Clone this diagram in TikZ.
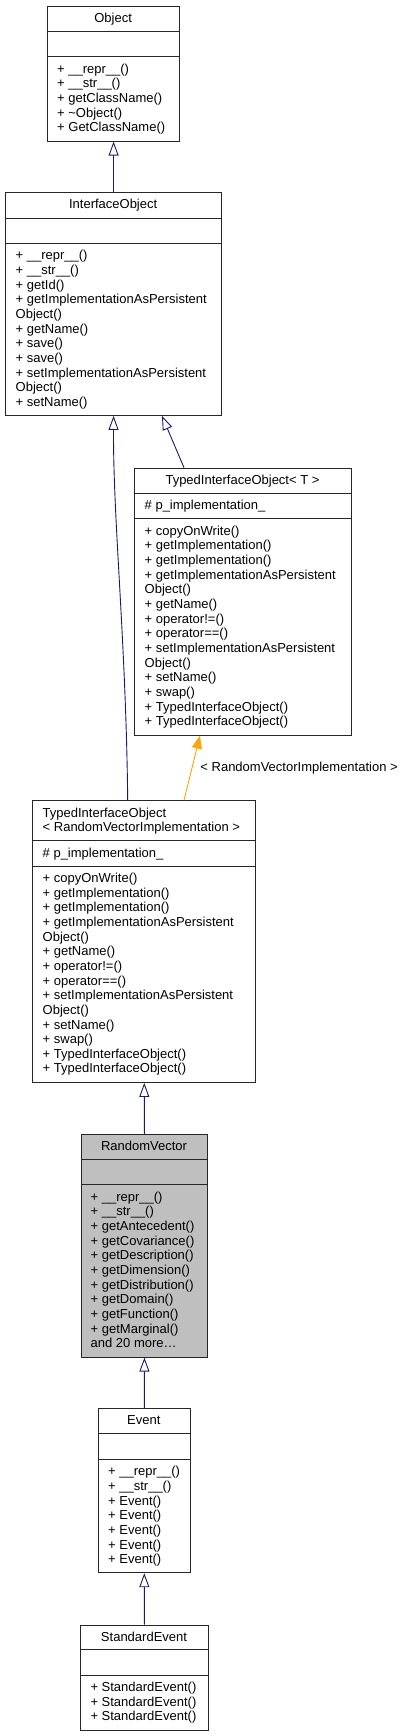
\documentclass[tikz,border=0pt]{standalone}
\usepackage{fontspec}
\setmainfont{Liberation Sans}
\usetikzlibrary{arrows.meta}
\definecolor{edgeblue}{HTML}{191970}
\definecolor{edgeorange}{HTML}{FFA500}
\definecolor{boxgray}{HTML}{BFBFBF}
\tikzset{
	classframe/.style={draw=black!85, line width=0.9pt, inner sep=0pt, anchor=north west},
	classline/.style={draw=black!85, line width=0.9pt},
	member/.style={inner sep=0pt, anchor=base west, font=\fontsize{13}{14.65}\selectfont},
	classtitle/.style={inner sep=0pt, anchor=base, font=\fontsize{13}{14.65}\selectfont},
	inherit/.style={draw=edgeblue, line width=0.9pt, -{Triangle[open, length=14pt, width=10pt, fill=white]}},
	template/.style={draw=edgeorange, line width=0.9pt, -{Triangle[length=13pt, width=10pt]}},
	edgelabel/.style={inner sep=0pt, font=\fontsize{13}{14.65}\selectfont}
}
\newcommand{\classbox}[9]{%
	\node[classframe, fill=#8, minimum width={(#4-#2)*1pt}, minimum height={(#5-#3)*1pt}] (#1) at (#2,#3) {};
	\draw[classline] (#2,#6) -- (#4,#6);
	\draw[classline] (#2,#7) -- (#4,#7);
	\node[classtitle] (#1-title) at ({(#2+#4)/2},{#3+16.5}) {#9};
}
\newcommand{\members}[4]{%
	\foreach \mline [count=\i] in {#4}{
		\node[member] (#1-\i) at (#2,{#3+(\i-1)*14.65}) {\mline};}
}
\begin{document}
\begin{tikzpicture}[x=1pt, y=-1pt]
	\useasboundingbox (0,0) rectangle (407,1736);
	\classbox{obj}{47}{5.7}{179.3}{140.7}{31.3}{56.7}{white}{Object}
	\members{obj}{57}{73.2}{+ \_\_repr\_\_(), + \_\_str\_\_(), + getClassName(), + \textasciitilde Object(), + GetClassName()}
	\classbox{iface}{5}{192.3}{221.3}{415}{218}{243.3}{white}{InterfaceObject}
	\members{iface}{15.5}{259.8}{+ \_\_repr\_\_(), + \_\_str\_\_(), + getId(), + getImplementationAsPersistent, Object(), + getName(), + save(), + save(), + setImplementationAsPersistent, Object(), + setName()}
	\classbox{typedT}{134.3}{467.7}{350.7}{734.7}{493}{518.7}{white}{TypedInterfaceObject< T >}
	\members{typedT-attr}{144.5}{509}{\# p\_implementation\_}
	\members{typedT}{144.5}{535.2}{+ copyOnWrite(), + getImplementation(), + getImplementation(), + getImplementationAsPersistent, Object(), + getName(), + operator!=(), + operator==(), + setImplementationAsPersistent, Object(), + setName(), + swap(), + TypedInterfaceObject(), + TypedInterfaceObject()}
	\classbox{trvi}{32.3}{800.3}{255.3}{1082}{840.7}{866}{white}{}
	\members{trvi-title}{42.5}{817.2}{TypedInterfaceObject, < RandomVectorImplementation >}
	\members{trvi-attr}{42.5}{857.2}{\# p\_implementation\_}
	\members{trvi}{42.5}{882.5}{+ copyOnWrite(), + getImplementation(), + getImplementation(), + getImplementationAsPersistent, Object(), + getName(), + operator!=(), + operator==(), + setImplementationAsPersistent, Object(), + setName(), + swap(), + TypedInterfaceObject(), + TypedInterfaceObject()}
	\classbox{rv}{80.7}{1134}{207.3}{1356.7}{1159.3}{1184.7}{boxgray}{RandomVector}
	\members{rv}{90.5}{1201.2}{+ \_\_repr\_\_(), + \_\_str\_\_(), + getAntecedent(), + getCovariance(), + getDescription(), + getDimension(), + getDistribution(), + getDomain(), + getFunction(), + getMarginal(), and 20 more\ldots}
	\classbox{event}{97.7}{1408.3}{190}{1572.3}{1433.7}{1459.3}{white}{Event}
	\members{event}{108}{1475.8}{+ \_\_repr\_\_(), + \_\_str\_\_(), + Event(), + Event(), + Event(), + Event(), + Event()}
	\classbox{se}{80}{1624.7}{208}{1729.7}{1649.7}{1675}{white}{StandardEvent}
	\members{se}{90.3}{1691.5}{+ StandardEvent(), + StandardEvent(), + StandardEvent()}
	% inheritance edges
	\draw[inherit] (iface.north) -- (obj.south);
	\draw[inherit] ([xshift=49.7pt]typedT.north west) -- ([xshift=157pt]iface.south west);
	\draw[inherit] ([xshift=95.4pt]trvi.north west) .. controls (126,640) and (113,520) .. (iface.south);
	\draw[template] ([xshift=151.7pt]trvi.north west) -- node[edgelabel, anchor=west, xshift=8pt] (tlabel) {< RandomVectorImplementation >} ([xshift=65.7pt]typedT.south west);
	\draw[inherit] (rv.north) -- (trvi.south);
	\draw[inherit] (event.north) -- (rv.south);
	\draw[inherit] (se.north) -- (event.south);
\end{tikzpicture}
\end{document}
